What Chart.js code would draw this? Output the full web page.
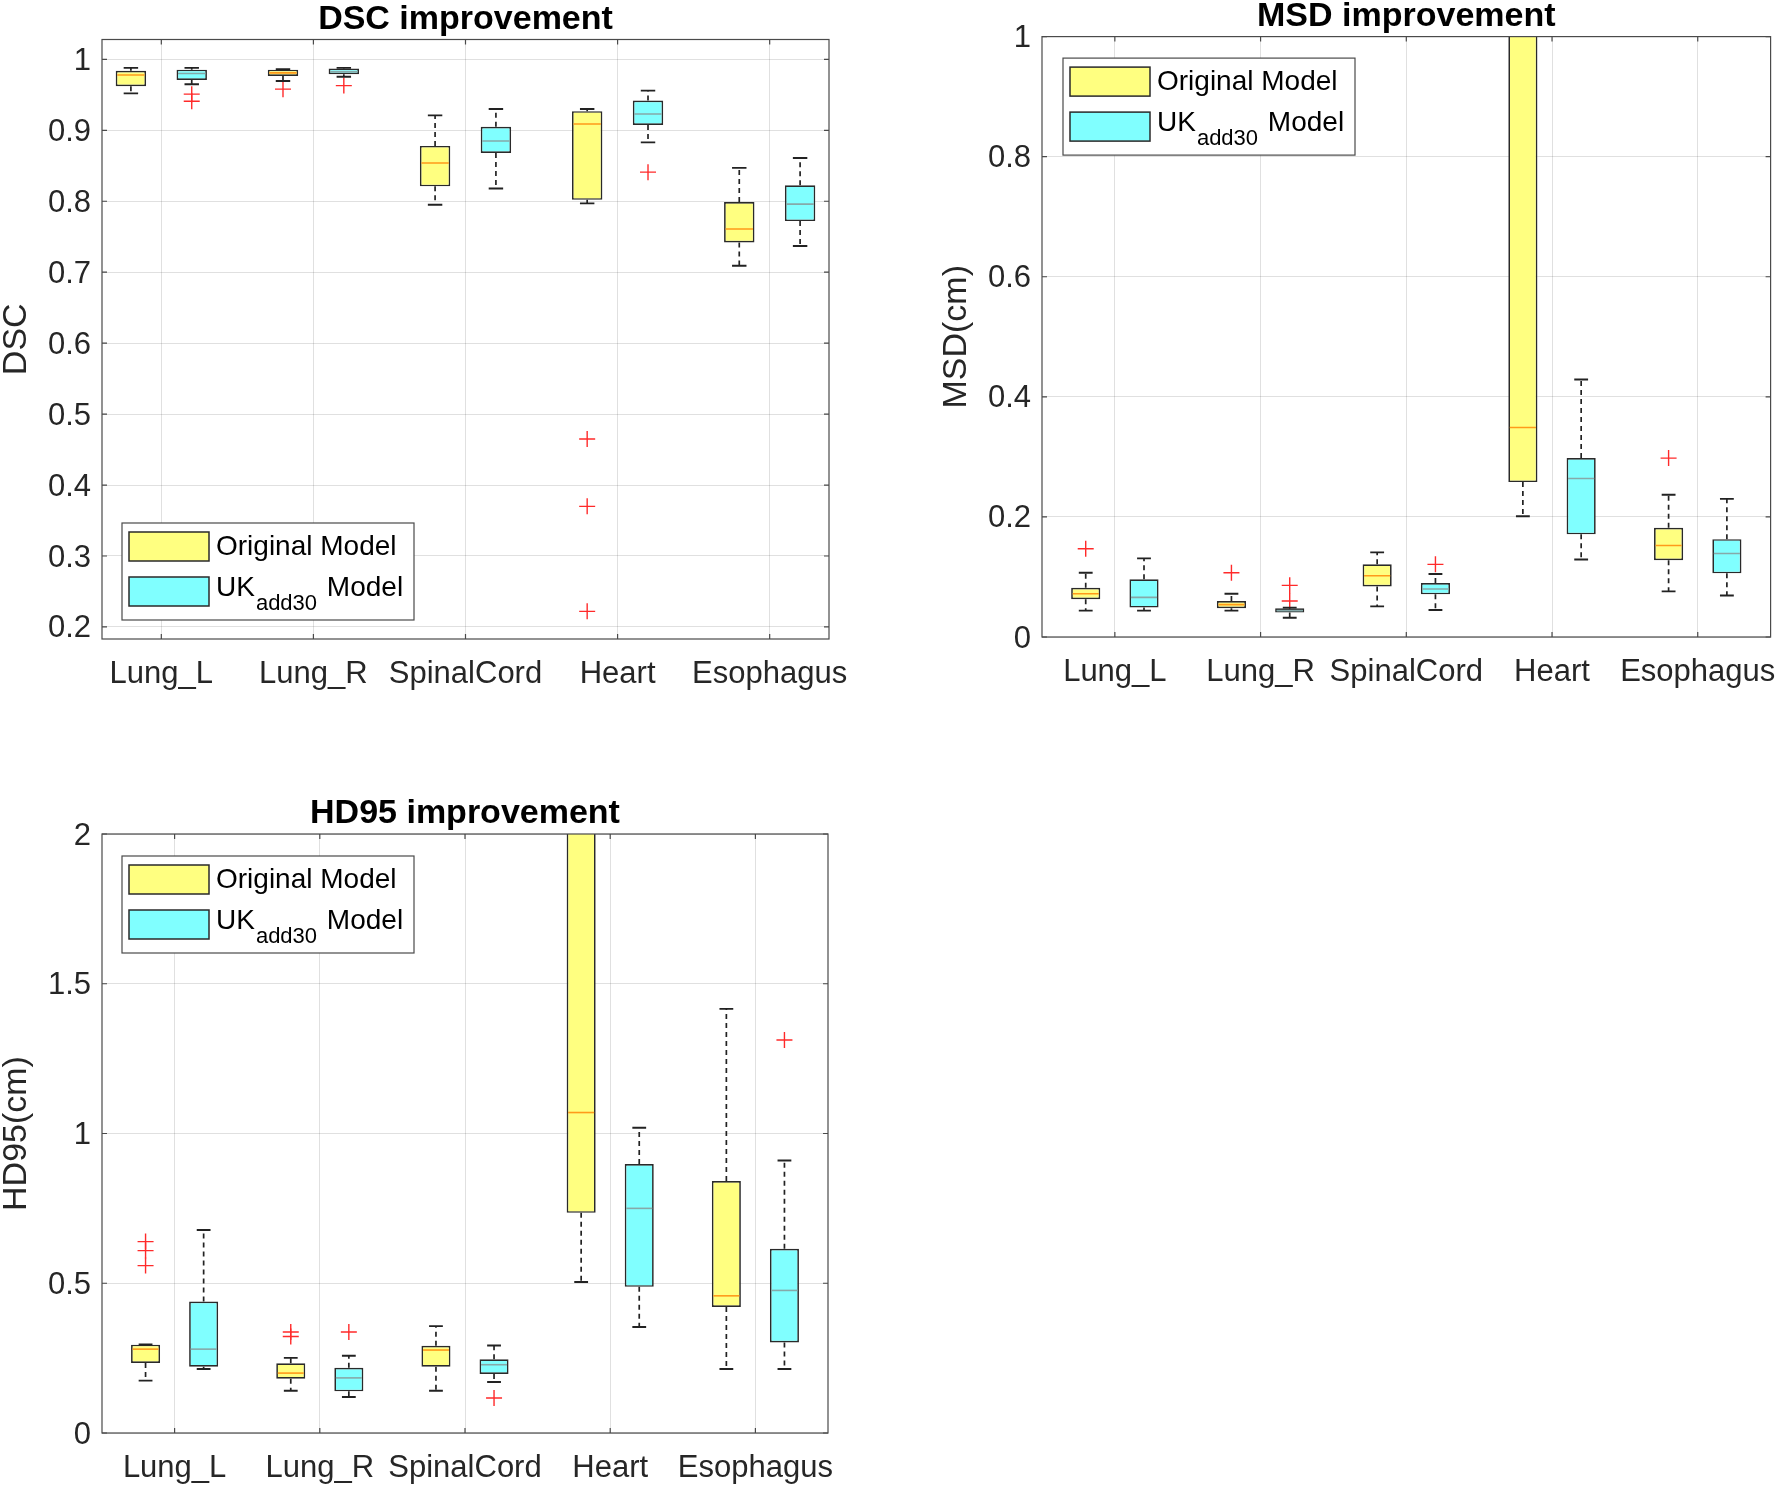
<!DOCTYPE html>
<html>
<head>
<meta charset="utf-8">
<script src="https://cdn.jsdelivr.net/npm/chart.js@4.4.1/dist/chart.umd.min.js"></script>
<style>
  html, body { margin: 0; padding: 0; background: #fff; }
  body { width: 1780px; height: 1486px; position: relative; overflow: hidden; }
  .panel { position: absolute; }
</style>
</head>
<body>
<div class="panel" style="left:0;top:0;width:860px;height:700px"><canvas id="dsc"></canvas></div>
<div class="panel" style="left:940px;top:0;width:840px;height:700px"><canvas id="msd"></canvas></div>
<div class="panel" style="left:0;top:790px;width:860px;height:696px"><canvas id="hd95"></canvas></div>
<script>
// categories
const organs = ['Lung_L', 'Lung_R', 'SpinalCord', 'Heart', 'Esophagus'];

// legend text: main part, subscript, tail
const legendMain = ['Original Model', 'UK'];
const legendSub = ['', 'add30'];
const legendTail = ['', ' Model'];

// each row: [lower whisker, q1, median, q3, upper whisker]
const dscOriginal = [
  [0.952, 0.962, 0.978, 0.984, 0.988],
  [0.9695, 0.9765, 0.981, 0.9855, 0.986],
  [0.795, 0.821, 0.854, 0.878, 0.921],
  [0.797, 0.802, 0.909, 0.927, 0.930],
  [0.709, 0.742, 0.761, 0.799, 0.847]
];
const dscOriginalOut = [[], [0.958], [], [0.465, 0.370, 0.222], []];
const dscUK = [
  [0.965, 0.971, 0.980, 0.9855, 0.988],
  [0.9756, 0.979, 0.9826, 0.987, 0.988],
  [0.818, 0.868, 0.885, 0.905, 0.930],
  [0.883, 0.9075, 0.923, 0.942, 0.956],
  [0.737, 0.772, 0.796, 0.8225, 0.861]
];
const dscUKOut = [[0.951, 0.941], [0.963], [], [0.841], []];

const msdOriginal = [
  [0.044, 0.063, 0.072, 0.082, 0.107],
  [0.044, 0.048, 0.054, 0.060, 0.072],
  [0.051, 0.084, 0.102, 0.121, 0.141],
  [0.201, 0.258, 0.349, 1.25, 1.9],
  [0.076, 0.128, 0.1525, 0.182, 0.237]
];
const msdOriginalOut = [[0.147], [0.107], [], [], [0.298]];
const msdUK = [
  [0.044, 0.049, 0.066, 0.096, 0.131],
  [0.032, 0.041, 0.044, 0.048, 0.049],
  [0.045, 0.071, 0.080, 0.090, 0.105],
  [0.129, 0.171, 0.264, 0.298, 0.429],
  [0.069, 0.106, 0.139, 0.163, 0.230]
];
const msdUKOut = [[], [0.086, 0.060], [0.121], [], []];

const hdOriginal = [
  [0.175, 0.234, 0.280, 0.295, 0.296],
  [0.141, 0.181, 0.200, 0.233, 0.251],
  [0.141, 0.221, 0.277, 0.291, 0.357],
  [0.504, 0.735, 1.070, 2.5, 3.2],
  [0.2135, 0.421, 0.458, 0.841, 1.416]
];
const hdOriginalOut = [[0.639, 0.609, 0.559], [0.337, 0.322], [], [], []];
const hdUK = [
  [0.2135, 0.221, 0.280, 0.439, 0.678],
  [0.120, 0.139, 0.184, 0.218, 0.258],
  [0.1705, 0.197, 0.228, 0.246, 0.292],
  [0.354, 0.488, 0.750, 0.898, 1.019],
  [0.2135, 0.3025, 0.476, 0.615, 0.910]
];
const hdUKOut = [[], [0.337], [0.117], [], [1.312]];

// tick values
const dscTicks = [0.2, 0.3, 0.4, 0.5, 0.6, 0.7, 0.8, 0.9, 1];
const msdTicks = [0, 0.2, 0.4, 0.6, 0.8, 1];
const hdTicks = [0, 0.5, 1, 1.5, 2];

const boxOffset = 0.2;
const capWidth = 0.095;
const yellow = 'rgb(255,255,128)';
const cyan = 'rgb(128,255,255)';
const gridCol = 'rgba(38,38,38,0.14)';

Chart.defaults.font.family = '"Liberation Sans", Arial, sans-serif';
Chart.defaults.color = '#262626';

function boxDataset(rows, sign, fill, medianColor, legendIdx) {
  return {
    type: 'bar',
    data: rows.map((r, i) => ({ x: i + 1 + sign * boxOffset, y: [r[1], r[3]] })),
    stats: rows,
    offsetSign: sign,
    legendIdx: legendIdx,
    medianColor: medianColor,
    backgroundColor: fill,
    borderColor: '#2a2a2a',
    borderWidth: 1.7,
    borderSkipped: false,
    grouped: false,
    categoryPercentage: 1,
    barPercentage: 0.5,
    clip: 0
  };
}

function outlierDataset(outs, sign) {
  return {
    type: 'scatter',
    data: outs.flatMap((vals, i) => vals.map(v => ({ x: i + 1 + sign * boxOffset, y: v }))),
    showLine: false,
    pointStyle: 'cross',
    pointRadius: 8,
    pointHoverRadius: 8,
    pointBorderColor: '#ff2a2a',
    pointBorderWidth: 1.4,
    borderColor: '#ff2a2a'
  };
}

// whiskers, caps and medians
const boxExtras = {
  id: 'boxExtras',
  afterDatasetsDraw(chart) {
    const { ctx, chartArea: a, scales: { x, y } } = chart;
    ctx.save();
    ctx.beginPath();
    ctx.rect(a.left, a.top, a.right - a.left, a.bottom - a.top);
    ctx.clip();
    const capHalf = (x.getPixelForValue(capWidth) - x.getPixelForValue(0)) / 2;
    chart.data.datasets.forEach((ds, di) => {
      if (!ds.stats) return;
      const meta = chart.getDatasetMeta(di);
      ds.stats.forEach((s, i) => {
        const bar = meta.data[i];
        const cx = x.getPixelForValue(i + 1 + ds.offsetSign * boxOffset);
        const half = bar.width / 2;
        const [lo, q1, med, q3, hi] = s.map(v => y.getPixelForValue(v));
        ctx.strokeStyle = '#222';
        ctx.lineWidth = 1.7;
        ctx.setLineDash([5, 4]);
        ctx.beginPath();
        ctx.moveTo(cx, q3); ctx.lineTo(cx, hi);
        ctx.moveTo(cx, q1); ctx.lineTo(cx, lo);
        ctx.stroke();
        ctx.setLineDash([]);
        ctx.lineWidth = 1.9;
        ctx.beginPath();
        ctx.moveTo(cx - capHalf, hi); ctx.lineTo(cx + capHalf, hi);
        ctx.moveTo(cx - capHalf, lo); ctx.lineTo(cx + capHalf, lo);
        ctx.stroke();
        ctx.strokeStyle = ds.medianColor;
        ctx.lineWidth = 1.6;
        ctx.beginPath();
        ctx.moveTo(cx - half + 1.5, med); ctx.lineTo(cx + half - 1.5, med);
        ctx.stroke();
      });
    });
    ctx.restore();
  }
};

// axes box with inward ticks, and the legend
const frameAndLegend = {
  id: 'frameAndLegend',
  afterDraw(chart, args, opts) {
    const { ctx, chartArea: a, scales: { x, y } } = chart;
    ctx.save();
    ctx.strokeStyle = '#4a4a4a';
    ctx.lineWidth = 1.2;
    ctx.strokeRect(a.left, a.top, a.right - a.left, a.bottom - a.top);
    const tl = 5;
    ctx.beginPath();
    x.ticks.forEach(t => {
      const px = x.getPixelForValue(t.value);
      ctx.moveTo(px, a.bottom); ctx.lineTo(px, a.bottom - tl);
      ctx.moveTo(px, a.top); ctx.lineTo(px, a.top + tl);
    });
    y.ticks.forEach(t => {
      const py = y.getPixelForValue(t.value);
      ctx.moveTo(a.left, py); ctx.lineTo(a.left + tl, py);
      ctx.moveTo(a.right, py); ctx.lineTo(a.right - tl, py);
    });
    ctx.stroke();

    // legend
    const w = 292, h = 97;
    const lx = a.left + opts.dx;
    const ly = opts.corner === 'bottom' ? a.bottom - opts.dy - h : a.top + opts.dy;
    ctx.fillStyle = '#fff';
    ctx.fillRect(lx, ly, w, h);
    ctx.strokeStyle = '#4a4a4a';
    ctx.lineWidth = 1.2;
    ctx.strokeRect(lx, ly, w, h);
    chart.data.datasets.forEach(ds => {
      if (ds.legendIdx === undefined) return;
      const k = ds.legendIdx;
      const cy = ly + 23.5 + k * 45;
      ctx.fillStyle = ds.backgroundColor;
      ctx.fillRect(lx + 7, cy - 14.5, 80, 29);
      ctx.strokeStyle = '#2a2a2a';
      ctx.lineWidth = 1.5;
      ctx.strokeRect(lx + 7, cy - 14.5, 80, 29);
      ctx.fillStyle = '#000';
      ctx.textAlign = 'left';
      ctx.textBaseline = 'middle';
      ctx.font = '28px "Liberation Sans", Arial, sans-serif';
      let tx = lx + 94;
      const mainY = legendSub[k] ? cy - 3 : cy + 1;
      ctx.fillText(legendMain[k], tx, mainY);
      tx += ctx.measureText(legendMain[k]).width;
      if (legendSub[k]) {
        ctx.font = '22px "Liberation Sans", Arial, sans-serif';
        ctx.fillText(legendSub[k], tx + 1, cy + 12);
        tx += ctx.measureText(legendSub[k]).width + 3;
        ctx.font = '28px "Liberation Sans", Arial, sans-serif';
        ctx.fillText(legendTail[k], tx, mainY);
      }
    });
    ctx.restore();
  }
};

function makeChart(id, cfg) {
  return new Chart(document.getElementById(id), {
    type: 'bar',
    data: {
      datasets: [
        boxDataset(cfg.original, -1, yellow, '#ff9a1a', 0),
        boxDataset(cfg.uk, 1, cyan, '#86a9a9', 1),
        outlierDataset(cfg.originalOut, -1),
        outlierDataset(cfg.ukOut, 1)
      ]
    },
    options: {
      responsive: true,
      maintainAspectRatio: false,
      animation: false,
      events: [],
      layout: { padding: { left: 0, right: cfg.padRight, top: 0, bottom: 0 } },
      plugins: {
        legend: { display: false },
        tooltip: { enabled: false },
        title: {
          display: true,
          text: cfg.title,
          fullSize: false,
          color: '#000',
          font: { size: 34, weight: 'bold', lineHeight: cfg.titleLH },
          padding: cfg.titlePad
        },
        frameAndLegend: cfg.legend
      },
      scales: {
        x: {
          type: 'linear',
          offset: false,
          min: cfg.xMin,
          max: cfg.xMax,
          afterBuildTicks: s => { s.ticks = organs.map((_, i) => ({ value: i + 1 })); },
          afterFit: s => { s.height = cfg.xAxisH; s.paddingLeft = 0; s.paddingRight = 0; },
          ticks: {
            callback: v => organs[Math.round(v) - 1],
            font: { size: 31 },
            color: '#262626',
            padding: 17,
            maxRotation: 0,
            autoSkip: false
          },
          grid: { color: gridCol, lineWidth: 1, drawTicks: false, offset: false },
          border: { display: false }
        },
        y: {
          type: 'linear',
          min: cfg.yMin,
          max: cfg.yMax,
          afterBuildTicks: s => { s.ticks = cfg.yTicks.map(v => ({ value: v })); },
          afterFit: s => { s.width = 102; s.paddingTop = 0; s.paddingBottom = 0; },
          ticks: {
            callback: v => String(v),
            font: { size: 31 },
            color: '#262626',
            padding: 11,
            labelOffset: 2
          },
          grid: { color: gridCol, lineWidth: 1, drawTicks: false },
          border: { display: false },
          title: {
            display: true,
            text: cfg.yTitle,
            color: '#262626',
            font: { size: 34, lineHeight: 1 },
            padding: 0
          }
        }
      }
    },
    plugins: [boxExtras, frameAndLegend]
  });
}

makeChart('dsc', {
  title: 'DSC improvement', yTitle: 'DSC',
  original: dscOriginal, uk: dscUK, originalOut: dscOriginalOut, ukOut: dscUKOut,
  yMin: 0.183, yMax: 1.028, yTicks: dscTicks,
  xMin: 0.61, xMax: 5.39,
  padRight: 31, xAxisH: 61, titleLH: 1, titlePad: { top: 3, bottom: 2.5 },
  legend: { corner: 'bottom', dx: 20, dy: 19 }
});

makeChart('msd', {
  title: 'MSD improvement', yTitle: 'MSD(cm)',
  original: msdOriginal, uk: msdUK, originalOut: msdOriginalOut, ukOut: msdUKOut,
  yMin: 0, yMax: 1, yTicks: msdTicks,
  xMin: 0.5, xMax: 5.5,
  padRight: 9, xAxisH: 63, titleLH: 0.9, titlePad: { top: 1.5, bottom: 4.5 },
  legend: { corner: 'top', dx: 21, dy: 21.5 }
});

makeChart('hd95', {
  title: 'HD95 improvement', yTitle: 'HD95(cm)',
  original: hdOriginal, uk: hdUK, originalOut: hdOriginalOut, ukOut: hdUKOut,
  yMin: 0, yMax: 2, yTicks: hdTicks,
  xMin: 0.5, xMax: 5.5,
  padRight: 32, xAxisH: 53, titleLH: 1, titlePad: { top: 7, bottom: 3 },
  legend: { corner: 'top', dx: 20, dy: 22 }
});
</script>
</body>
</html>
